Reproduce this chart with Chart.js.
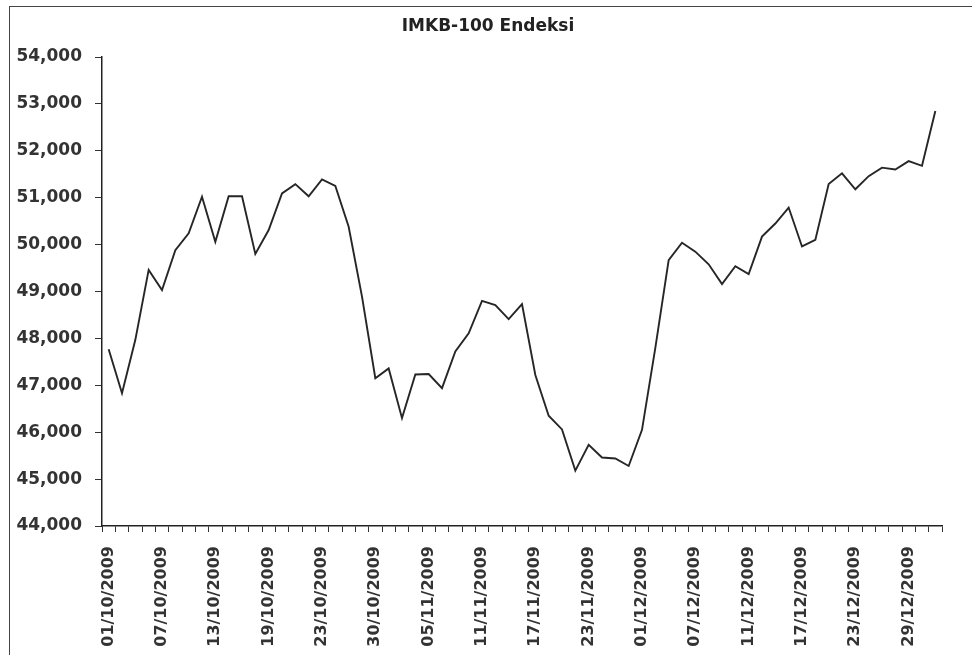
<!DOCTYPE html>
<html>
<head>
<meta charset="utf-8">
<script src="https://cdn.jsdelivr.net/npm/chart.js@4.4.1/dist/chart.umd.min.js"></script>
<style>
  html, body { margin: 0; padding: 0; background: #fff; }
  #wrap { position: relative; width: 972px; height: 655px; overflow: hidden; }
  #frame { position: absolute; left: 9px; top: 6px; width: 980px; height: 700px;
           border-left: 1.5px solid #444; border-top: 1.5px solid #444; }
  #title { position: absolute; left: 388px; width: 200px; top: 15px; text-align: center;
           font: bold 17px "DejaVu Sans", sans-serif; color: #222; white-space: nowrap; }
  canvas { position: absolute; left: 0; top: 0; }
</style>
</head>
<body>
<div id="wrap">
  <div id="frame"></div>
  <canvas id="myChart" width="972" height="655"></canvas>
  <div id="title">IMKB-100 Endeksi</div>
</div>
<script>
// trading days, Oct - Dec 2009
const dates = [
  '01/10/2009', '02/10/2009', '05/10/2009', '06/10/2009', '07/10/2009', '08/10/2009', '09/10/2009',
  '12/10/2009', '13/10/2009', '14/10/2009', '15/10/2009', '16/10/2009', '19/10/2009', '20/10/2009',
  '21/10/2009', '22/10/2009', '23/10/2009', '26/10/2009', '27/10/2009', '28/10/2009', '30/10/2009',
  '02/11/2009', '03/11/2009', '04/11/2009', '05/11/2009', '06/11/2009', '09/11/2009', '10/11/2009',
  '11/11/2009', '12/11/2009', '13/11/2009', '16/11/2009', '17/11/2009', '18/11/2009', '19/11/2009',
  '20/11/2009', '23/11/2009', '24/11/2009', '25/11/2009', '26/11/2009',
  '01/12/2009', '02/12/2009', '03/12/2009', '04/12/2009', '07/12/2009', '08/12/2009', '09/12/2009',
  '10/12/2009', '11/12/2009', '14/12/2009', '15/12/2009', '16/12/2009', '17/12/2009', '18/12/2009',
  '21/12/2009', '22/12/2009', '23/12/2009', '24/12/2009', '25/12/2009', '28/12/2009', '29/12/2009',
  '30/12/2009', '31/12/2009'
];

const imkb100 = [
  47770, 46830, 47970, 49460, 49030, 49880, 50240,
  51020, 50060, 51030, 51030, 49800, 50310, 51090,
  51290, 51030, 51390, 51250, 50380, 48890, 47150,
  47360, 46300, 47230, 47240, 46940, 47720, 48110,
  48800, 48710, 48410, 48730, 47220, 46350, 46060,
  45180, 45730, 45460, 45440, 45280,
  46050, 47800, 49670, 50040, 49850, 49580, 49160,
  49540, 49370, 50170, 50450, 50790, 49960, 50100,
  51290, 51520, 51180, 51460, 51640, 51600, 51780,
  51680, 52850
];

const yMin = 44000;
const yMax = 54000;
const yStep = 1000;
const labelEvery = 4;

const ctx = document.getElementById('myChart');

const chart = new Chart(ctx, {
  type: 'line',
  data: {
    labels: dates,
    datasets: [
      {
        label: 'IMKB-100',
        data: imkb100,
        borderColor: '#262626',
        borderWidth: 1.9,
        pointRadius: 0,
        tension: 0,
        fill: false,
      },
    ],
  },
  options: {
    responsive: false,
    animation: false,
    devicePixelRatio: 1,
    layout: {
      padding: { left: 0, right: 30, top: 57, bottom: 0 },
    },
    plugins: {
      legend: { display: false },
      title: { display: false },
      tooltip: { enabled: false },
    },
    scales: {
      x: {
        type: 'category',
        offset: true,
        afterFit: (scale) => { scale.height = 129; },
        grid: {
          offset: true,
          drawOnChartArea: false,
          drawTicks: true,
          tickLength: 6,
          color: '#333',
          lineWidth: 1,
        },
        border: { display: true, color: '#222', width: 1.5 },
        ticks: {
          autoSkip: false,
          maxRotation: 90,
          minRotation: 90,
          padding: 14,
          color: '#333',
          font: { family: 'DejaVu Sans', size: 16, weight: 'bold' },
          callback: function (val, i) {
            return i % labelEvery === 0 ? dates[i] : '';
          },
        },
      },
      y: {
        min: yMin,
        max: yMax,
        afterFit: (scale) => { scale.width = 102; },
        grid: {
          drawOnChartArea: false,
          drawTicks: true,
          tickLength: 7,
          color: '#333',
          lineWidth: 1,
        },
        border: { display: true, color: '#222', width: 1.5 },
        ticks: {
          stepSize: yStep,
          padding: 13,
          color: '#333',
          font: { family: 'DejaVu Sans', size: 17, weight: 'bold' },
          callback: (v) => v.toLocaleString('en-US'),
        },
      },
    },
  },
});
</script>
</body>
</html>
